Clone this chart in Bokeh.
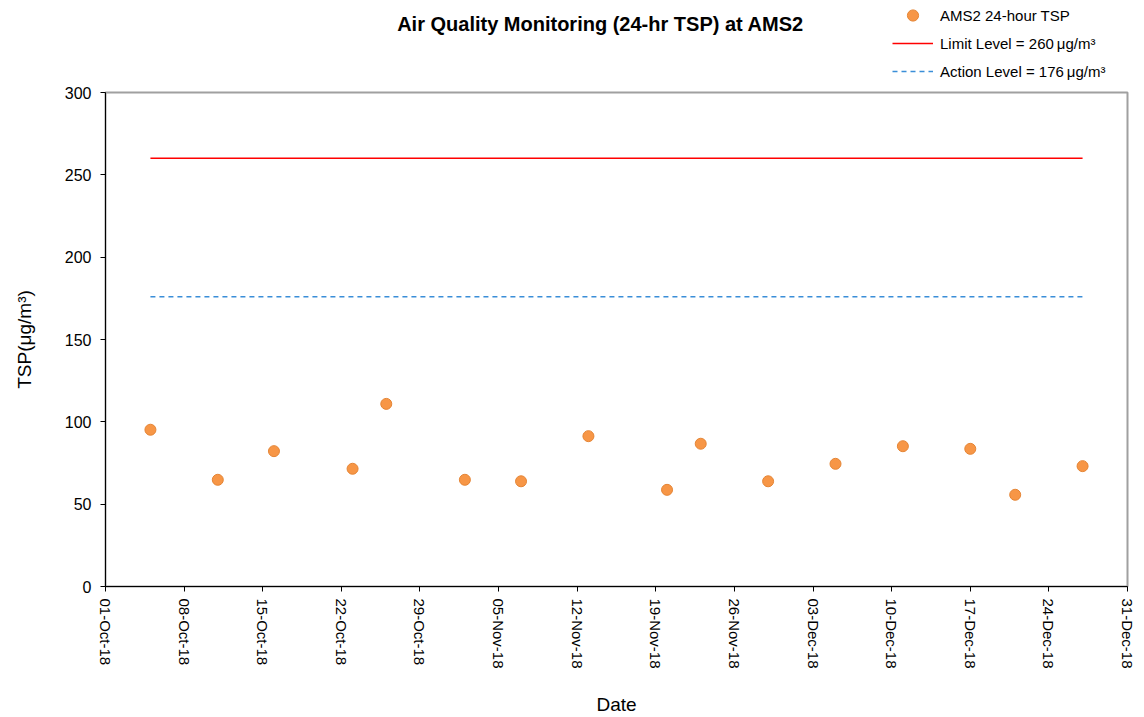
import math
import pandas as pd
from bokeh.plotting import figure
from bokeh.layouts import column
from bokeh.models import (Range1d, DatetimeTickFormatter, FixedTicker, Legend, LegendItem, Label)
from bokeh.embed import file_html
from bokeh.resources import INLINE

# ---- data ----
dates = ["2018-10-05", "2018-10-11", "2018-10-16", "2018-10-23", "2018-10-26",
         "2018-11-02", "2018-11-07", "2018-11-13", "2018-11-20", "2018-11-23",
         "2018-11-29", "2018-12-05", "2018-12-11", "2018-12-17", "2018-12-21",
         "2018-12-27"]
tsp = [95.2, 64.8, 82.2, 71.5, 110.9, 64.8, 63.9, 91.3, 58.7, 86.7,
       63.9, 74.5, 85.2, 83.6, 55.7, 73.1]
limit_level = 260
action_level = 176
tick_dates = ["2018-10-01", "2018-10-08", "2018-10-15", "2018-10-22", "2018-10-29",
              "2018-11-05", "2018-11-12", "2018-11-19", "2018-11-26", "2018-12-03",
              "2018-12-10", "2018-12-17", "2018-12-24", "2018-12-31"]
y_ticks = [0, 50, 100, 150, 200, 250, 300]
title_text = "Air Quality Monitoring (24-hr TSP) at AMS2"
series_label = "AMS2 24-hour TSP"
limit_label = "Limit Level = 260\u2009\u03bcg/m\u00b3"
action_label = "Action Level = 176\u2009\u03bcg/m\u00b3"

FONT = "Liberation Sans"
ORANGE, ORANGE_EDGE = "#F79646", "#E58535"
RED, BLUE = "#FF0000", "#3A8ED8"
NAN = float("nan")

x = pd.to_datetime(dates)
ticks_dt = pd.to_datetime(tick_dates)
tick_ms = [t.timestamp() * 1000 for t in ticks_dt]

W, HEAD_H, MAIN_H = 1144, 82, 635

# ---------- header (title + legend); frame aligned with main chart frame ----------
head = figure(width=W, height=HEAD_H, output_backend="svg", toolbar_location=None,
              x_axis_location=None, y_axis_location=None, min_border=0,
              x_range=Range1d(0, 1), y_range=Range1d(0, 1))
head.outline_line_color = None
head.xgrid.visible = False
head.ygrid.visible = False
# legend proxies (not drawn in the header: NaN positions)
h_sc = head.scatter(x=[NAN], y=[NAN], size=11, fill_color=ORANGE, line_color=ORANGE_EDGE, line_width=1)
h_lim = head.line(x=[NAN, NAN], y=[NAN, NAN], line_color=RED, line_width=1.5)
h_act = head.line(x=[NAN, NAN], y=[NAN, NAN], line_color=BLUE, line_width=1.5, line_dash="5 4")

head.add_layout(Label(x=495, y=HEAD_H - 23, x_units="screen", y_units="screen", text=title_text,
                      text_font=FONT, text_font_size="20px", text_font_style="bold",
                      text_align="center", text_baseline="middle", text_color="black"))

legend = Legend(items=[LegendItem(label=series_label, renderers=[h_sc]),
                       LegendItem(label=limit_label, renderers=[h_lim]),
                       LegendItem(label=action_label, renderers=[h_act])],
                location=(787, -3), orientation="vertical",
                glyph_width=41, glyph_height=28, label_height=28, spacing=0,
                label_standoff=7, padding=0, margin=0,
                border_line_color=None, background_fill_alpha=0,
                label_text_font=FONT, label_text_font_size="15px", label_text_color="black")
head.add_layout(legend, "center")

# ---------- main chart ----------
p = figure(width=W, height=MAIN_H, x_axis_type="datetime",
           output_backend="svg", toolbar_location=None,
           min_border_left=105, min_border_right=17, min_border_top=10, min_border_bottom=131)
p.x_range = Range1d(ticks_dt[0], ticks_dt[-1])
p.y_range = Range1d(0, 300)
p.xgrid.visible = False
p.ygrid.visible = False
p.outline_line_color = "#A0A0A0"
p.outline_line_width = 2

p.line([x[0], x[-1]], [limit_level, limit_level], line_color=RED, line_width=1.5)
p.line([x[0], x[-1]], [action_level, action_level], line_color=BLUE,
       line_width=1.5, line_dash="5 4")
p.scatter(x, tsp, size=11, fill_color=ORANGE, line_color=ORANGE_EDGE, line_width=1)

xa = p.xaxis[0]
xa.ticker = FixedTicker(ticks=tick_ms)
xa.formatter = DatetimeTickFormatter(days="%d-%b-%y", months="%d-%b-%y", years="%d-%b-%y")
xa.major_label_orientation = -math.pi / 2
xa.axis_label = "Date"
xa.minor_tick_line_color = None

ya = p.yaxis[0]
ya.ticker = FixedTicker(ticks=y_ticks)
ya.axis_label = "TSP(\u03bcg/m\u00b3)"
ya.minor_tick_line_color = None

for ax in (xa, ya):
    ax.axis_line_color = "black"
    ax.major_tick_line_color = "black"
    ax.major_tick_out = 5
    ax.major_tick_in = 0
    ax.major_label_text_font = FONT
    ax.major_label_text_font_size = "16px"
    ax.major_label_text_color = "black"
    ax.axis_label_text_font = FONT
    ax.axis_label_text_font_size = "19px"
    ax.axis_label_text_font_style = "normal"
    ax.axis_label_text_color = "black"
xa.major_label_text_font_size = "15px"
xa.major_label_standoff = 7
xa.axis_label_standoff = 22
ya.major_label_standoff = 9
ya.axis_label_standoff = 27

layout = column(head, p, spacing=0)
open("out.html", "w").write(file_html(layout, INLINE))
